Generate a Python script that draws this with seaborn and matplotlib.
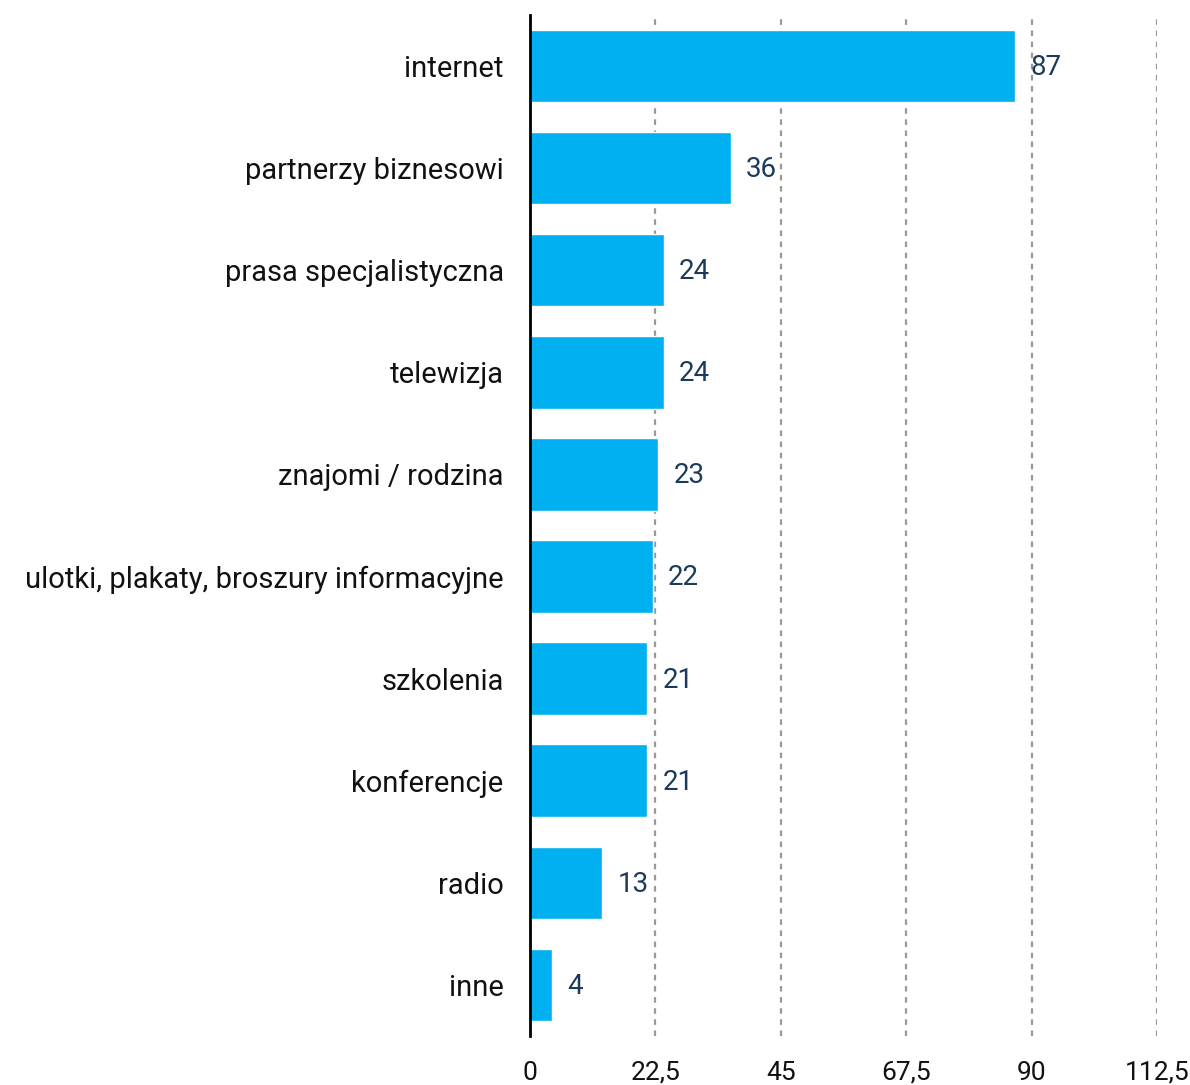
import matplotlib
matplotlib.use("Agg")
import matplotlib.pyplot as plt
from matplotlib.ticker import FixedLocator, FixedFormatter
import seaborn as sns
import pandas as pd

categories = ["internet", "partnerzy biznesowi", "prasa specjalistyczna", "telewizja",
              "znajomi / rodzina", "ulotki, plakaty, broszury informacyjne", "szkolenia",
              "konferencje", "radio", "inne"]
values = [87, 36, 24, 24, 23, 22, 21, 21, 13, 4]
xticks = [0, 22.5, 45, 67.5, 90, 112.5]
xtick_labels = ["0", "22,5", "45", "67,5", "90", "112,5"]

sns.set_style("white")
plt.rcParams['font.family'] = ['Roboto', 'DejaVu Sans']

df = pd.DataFrame({"cat": categories, "val": values})

fig = plt.figure(figsize=(11.9, 10.85), dpi=100)
ax = fig.add_axes([0.4454, 0.0452, 0.5269, 0.941])

sns.barplot(data=df, y="cat", x="val", orient="h", color="#00B0F0",
            saturation=1, width=0.71, ax=ax, zorder=3)

ax.set_xlim(0, 112.5)
ax.set_ylim(len(categories) - 0.5, -0.5)
ax.xaxis.set_major_locator(FixedLocator(xticks))
ax.xaxis.set_major_formatter(FixedFormatter(xtick_labels))
ax.set_xlabel("")
ax.set_ylabel("")
ax.xaxis.grid(True, linestyle=(0, (2.5, 2.5)), color="#999999", linewidth=1.6, zorder=0)
ax.set_axisbelow(True)
for s in ["top", "right", "bottom"]:
    ax.spines[s].set_visible(False)
ax.spines["left"].set_color("black")
ax.spines["left"].set_linewidth(2)
ax.spines["left"].set_zorder(5)
ax.tick_params(axis="x", length=0, pad=18, labelsize=19, colors="#111111")
ax.tick_params(axis="y", length=0, pad=19, labelsize=21, colors="#111111")

for i, v in enumerate(values):
    ax.annotate(str(v), xy=(v, i), xytext=(11, -1), textcoords="offset points",
                va="center", ha="left", fontsize=20, color="#1B3A5C")

fig.savefig("out.png", dpi=100)
